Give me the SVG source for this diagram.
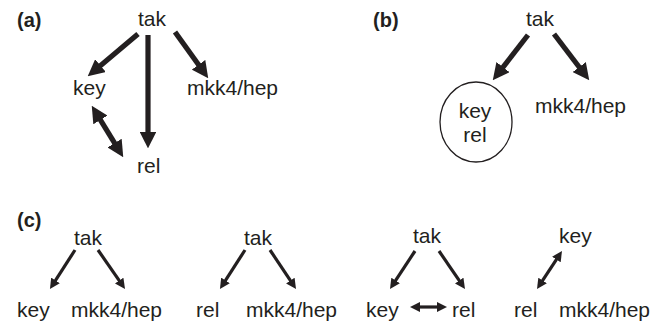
<svg xmlns="http://www.w3.org/2000/svg" width="663" height="323" viewBox="0 0 663 323">
<defs>
<marker id="ah" viewBox="0 0 10 10" refX="4.3" refY="5" markerWidth="3.2" markerHeight="3.2" orient="auto-start-reverse" markerUnits="strokeWidth">
<path d="M0,0 L10,5 L0,10 z" fill="#231f20"/>
</marker>
<style>
text{font-family:"Liberation Sans",Arial,sans-serif;font-size:21px;fill:#231f20}
.lbl{font-weight:bold;font-size:20px}
.c{text-anchor:middle}
.big{stroke:#231f20;stroke-width:5.2;fill:none}
.sm{stroke:#231f20;stroke-width:3.2;fill:none}
.e{marker-end:url(#ah)}
.b{marker-start:url(#ah);marker-end:url(#ah)}
</style>
</defs>
<rect width="663" height="323" fill="#fff"/>
<text class="lbl" x="17" y="27">(a)</text>
<text class="lbl" x="373" y="27">(b)</text>
<text class="lbl" x="17" y="227">(c)</text>
<g id="a-tak"><text x="138" y="26">tak</text></g>
<g id="a-key"><text x="73" y="95">key</text></g>
<g id="a-mkk4"><text x="187" y="95">mkk4/hep</text></g>
<g id="a-rel"><text x="137" y="173">rel</text></g>
<g id="b-tak"><text x="526" y="26">tak</text></g>
<g id="b-keyrel"><ellipse cx="476" cy="122" rx="36" ry="40" fill="none" stroke="#231f20" stroke-width="1.3"/><text class="c" x="475" y="118">key</text><text class="c" x="475" y="142">rel</text></g>
<g id="b-mkk4"><text x="535" y="113">mkk4/hep</text></g>
<g id="c1-tak"><text x="74" y="245">tak</text></g>
<g id="c1-key"><text x="17" y="317">key</text></g>
<g id="c1-mkk4"><text x="71" y="317">mkk4/hep</text></g>
<g id="c2-tak"><text x="244" y="245">tak</text></g>
<g id="c2-rel"><text x="196" y="317">rel</text></g>
<g id="c2-mkk4"><text x="246" y="317">mkk4/hep</text></g>
<g id="c3-tak"><text x="413" y="243">tak</text></g>
<g id="c3-key"><text x="366" y="317">key</text></g>
<g id="c3-rel"><text x="452" y="317">rel</text></g>
<g id="c4-key"><text x="559" y="243">key</text></g>
<g id="c4-rel"><text x="514" y="317">rel</text></g>
<g id="c4-mkk4"><text x="559" y="317">mkk4/hep</text></g>
<g id="connectors">
<line class="big e" x1="138" y1="34" x2="95" y2="70.2"/>
<line class="big e" x1="148" y1="35" x2="148" y2="138.9"/>
<line class="big e" x1="175" y1="32" x2="202.7" y2="70.6"/>
<line class="big b" x1="96.7" y1="113.8" x2="118.3" y2="149.2"/>
<line class="big e" x1="528" y1="35" x2="498.6" y2="72.8"/>
<line class="big e" x1="554" y1="34" x2="583.5" y2="72.8"/>
<line class="sm e" x1="75" y1="250" x2="53.1" y2="284.1"/>
<line class="sm e" x1="98" y1="250" x2="121.7" y2="284.2"/>
<line class="sm e" x1="245" y1="250" x2="223.1" y2="284.1"/>
<line class="sm e" x1="270" y1="250" x2="292.8" y2="284.2"/>
<line class="sm e" x1="415" y1="251" x2="393.2" y2="284.2"/>
<line class="sm e" x1="439" y1="251" x2="461.7" y2="284.2"/>
<line class="sm b" x1="415.8" y1="307" x2="441.2" y2="307"/>
<line class="sm b" x1="558.8" y1="255.8" x2="540.2" y2="284.2"/>
</g>
</svg>
